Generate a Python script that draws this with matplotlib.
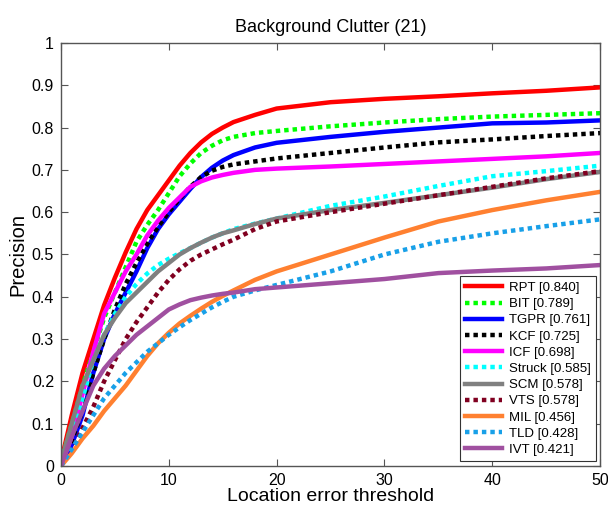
import matplotlib
matplotlib.use("Agg")
import matplotlib.pyplot as plt

plt.rcParams['font.family'] = ['Liberation Sans', 'DejaVu Sans']

thresholds = [0, 1, 2, 3, 4, 5, 6, 7, 8, 9, 10, 11, 12, 13, 14, 15, 16, 18, 20, 25, 30, 35, 40, 45, 50]

rpt    = [0.01, 0.12, 0.22, 0.30, 0.38, 0.445, 0.505, 0.56, 0.605, 0.64, 0.675, 0.71, 0.74, 0.765, 0.785, 0.80, 0.813, 0.83, 0.845, 0.86, 0.868, 0.874, 0.881, 0.887, 0.895]
bit    = [0.01, 0.10, 0.19, 0.27, 0.35, 0.41, 0.47, 0.53, 0.57, 0.605, 0.645, 0.685, 0.715, 0.74, 0.757, 0.77, 0.778, 0.787, 0.792, 0.803, 0.812, 0.82, 0.826, 0.83, 0.834]
tgpr   = [0.0, 0.05, 0.12, 0.22, 0.30, 0.36, 0.41, 0.46, 0.515, 0.56, 0.595, 0.625, 0.655, 0.683, 0.705, 0.722, 0.735, 0.753, 0.764, 0.778, 0.79, 0.80, 0.81, 0.812, 0.817]
kcf    = [0.0, 0.06, 0.13, 0.22, 0.30, 0.37, 0.43, 0.48, 0.525, 0.565, 0.60, 0.632, 0.66, 0.683, 0.698, 0.707, 0.713, 0.72, 0.727, 0.74, 0.753, 0.765, 0.772, 0.78, 0.787]
icf    = [0.0, 0.07, 0.17, 0.27, 0.36, 0.41, 0.46, 0.50, 0.545, 0.58, 0.61, 0.635, 0.66, 0.673, 0.682, 0.688, 0.693, 0.70, 0.703, 0.708, 0.714, 0.72, 0.726, 0.732, 0.74]
struck = [0.0, 0.08, 0.16, 0.25, 0.31, 0.36, 0.40, 0.43, 0.455, 0.475, 0.49, 0.503, 0.515, 0.528, 0.54, 0.55, 0.56, 0.573, 0.585, 0.615, 0.637, 0.662, 0.685, 0.697, 0.71]
scm    = [0.01, 0.10, 0.19, 0.25, 0.31, 0.35, 0.385, 0.41, 0.435, 0.46, 0.48, 0.50, 0.515, 0.528, 0.54, 0.55, 0.557, 0.572, 0.585, 0.605, 0.622, 0.64, 0.658, 0.678, 0.695]
vts    = [0.0, 0.035, 0.09, 0.14, 0.20, 0.25, 0.30, 0.34, 0.375, 0.41, 0.44, 0.465, 0.485, 0.50, 0.512, 0.524, 0.535, 0.56, 0.578, 0.60, 0.62, 0.64, 0.66, 0.68, 0.697]
mil    = [0.0, 0.03, 0.065, 0.095, 0.13, 0.16, 0.19, 0.225, 0.26, 0.29, 0.315, 0.337, 0.355, 0.372, 0.388, 0.402, 0.415, 0.44, 0.46, 0.50, 0.54, 0.578, 0.605, 0.628, 0.648]
tld    = [0.0, 0.04, 0.08, 0.12, 0.16, 0.19, 0.22, 0.245, 0.27, 0.29, 0.31, 0.328, 0.345, 0.36, 0.375, 0.388, 0.40, 0.415, 0.428, 0.46, 0.50, 0.53, 0.55, 0.567, 0.583]
ivt    = [0.0, 0.07, 0.13, 0.19, 0.23, 0.26, 0.285, 0.31, 0.33, 0.35, 0.37, 0.382, 0.392, 0.398, 0.403, 0.407, 0.41, 0.418, 0.422, 0.432, 0.442, 0.456, 0.462, 0.467, 0.475]

labels = ['RPT [0.840]', 'BIT [0.789]', 'TGPR [0.761]', 'KCF [0.725]', 'ICF [0.698]',
          'Struck [0.585]', 'SCM [0.578]', 'VTS [0.578]', 'MIL [0.456]', 'TLD [0.428]', 'IVT [0.421]']
series = [rpt, bit, tgpr, kcf, icf, struck, scm, vts, mil, tld, ivt]
colors = ['#ff0000', '#00ff00', '#0000ff', '#000000', '#ff00ff',
          '#00ffff', '#808080', '#800020', '#ff8030', '#18a0e8', '#a050a0']
styles = ['-', ':', '-', ':', '-', ':', '-', ':', '-', ':', '-']

fig = plt.figure(figsize=(6.08, 5.08), dpi=100)
ax = fig.add_axes([0.1003, 0.0827, 0.8867, 0.8327])

for y, lab, c, ls in zip(series, labels, colors, styles):
    if ls == ':':
        ax.plot(thresholds, y, color=c, linewidth=3.2, linestyle=(0, (1, 0.9)),
                dash_capstyle='butt', label=lab)
    else:
        ax.plot(thresholds, y, color=c, linewidth=3.2, linestyle='-', label=lab)

ax.set_xlim(0, 50)
ax.set_ylim(0, 1)
ax.set_xticks([0, 10, 20, 30, 40, 50])
ax.set_yticks([0, 0.1, 0.2, 0.3, 0.4, 0.5, 0.6, 0.7, 0.8, 0.9, 1.0])
ax.set_yticklabels(['0', '0.1', '0.2', '0.3', '0.4', '0.5', '0.6', '0.7', '0.8', '0.9', '1'])
ax.tick_params(direction='in', top=True, right=True, labelsize=11.5, length=5,
               color='#555555', pad=5)
for sp in ax.spines.values():
    sp.set_color('#555555')
    sp.set_linewidth(1.0)

ax.set_title('Background Clutter (21)', fontsize=13, pad=8)
ax.set_xlabel('Location error threshold', fontsize=14, labelpad=0)
ax.set_ylabel('Precision', fontsize=14.5, labelpad=3)

leg = ax.legend(loc='lower right', fontsize=9.5, handlelength=2.8, labelspacing=0.3,
                borderpad=0.4, handletextpad=0.5, fancybox=False, framealpha=1,
                bbox_to_anchor=(0.997, 0.005), borderaxespad=0.2)
leg.get_frame().set_edgecolor('#333333')
leg.get_frame().set_linewidth(0.8)

fig.savefig('out.png', dpi=100)
